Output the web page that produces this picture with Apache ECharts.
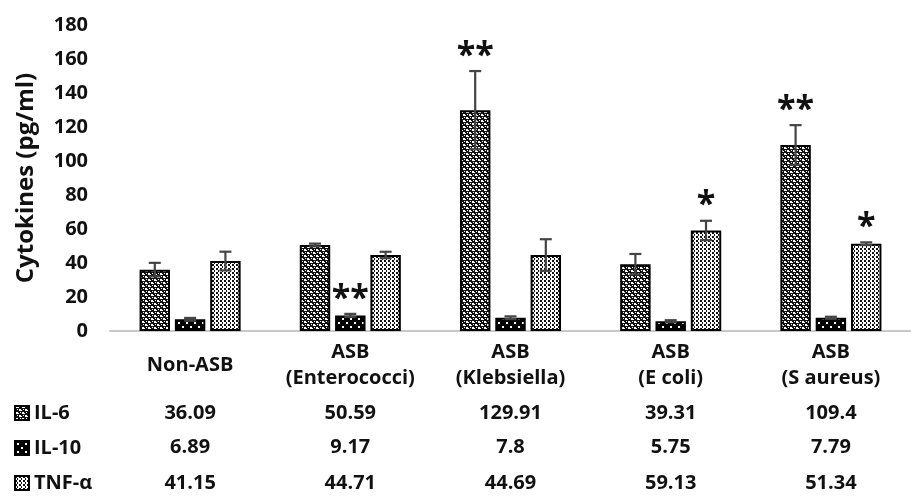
<!DOCTYPE html>
<html>
<head>
<meta charset="utf-8">
<script src="https://cdn.jsdelivr.net/npm/echarts@6/dist/echarts.min.js"></script>
<style>
  html, body { margin: 0; padding: 0; background: #fff; }
  #chart { width: 911px; height: 501px; }
</style>
</head>
<body>
<div id="chart"></div>
<script>
var categories = ["Non-ASB", "ASB\n(Enterococci)", "ASB\n(Klebsiella)", "ASB\n(E coli)", "ASB\n(S aureus)"];
var seriesNames = ["IL-6", "IL-10", "TNF-α"];

var il6 = [36.09, 50.59, 129.91, 39.31, 109.4];
var il10 = [6.89, 9.17, 7.8, 5.75, 7.79];
var tnf = [41.15, 44.71, 44.69, 59.13, 51.34];

// error bar half-lengths
var il6Err = [4, 0.8, 23, 6, 11.7];
var il10Err = [0.8, 0.9, 0.8, 0.6, 0.6];
var tnfErr = [5.5, 1.9, 9.3, 5.7, 0.8];

// significance marks
var il6Stars = ["", "", "**", "", "**"];
var il10Stars = ["", "**", "", "", ""];
var tnfStars = ["", "", "", "*", "*"];

var yTicks = [0, 20, 40, 60, 80, 100, 120, 140, 160, 180];

var FONT = "Open Sans";
var BAR_W = 0.19;   // share of category width
var BAR_GAP = 0.16; // share of bar width

function makeTile(w, h, bg, fg, dots) {
  var c = document.createElement("canvas");
  c.width = w; c.height = h;
  var ctx = c.getContext("2d");
  ctx.fillStyle = bg;
  ctx.fillRect(0, 0, w, h);
  ctx.fillStyle = fg;
  dots.forEach(function (d) { ctx.fillRect(d[0], d[1], d[2], d[3]); });
  return c;
}

var pat6 = makeTile(6, 6, "#111", "#fff", [[1, 0, 2, 2], [4, 3, 2, 2], [0, 4, 1, 1], [3, 1, 1, 1], [2, 3, 1, 1], [5, 0, 1, 1]]);
var pat10 = makeTile(8, 8, "#000", "#fff", [[2, 2, 2, 2], [6, 6, 2, 2]]);
var patTnf = makeTile(4, 4, "#fff", "#111", [[0, 0, 2, 2], [2, 2, 1, 2]]);
var patterns = [pat6, pat10, patTnf];

function barSeries(i, values) {
  return {
    name: seriesNames[i],
    type: "bar",
    data: values,
    barWidth: (BAR_W * 100) + "%",
    barGap: (BAR_GAP * 100) + "%",
    itemStyle: {
      color: { image: patterns[i], repeat: "repeat" },
      borderColor: "#000",
      borderWidth: 2
    }
  };
}

function offsetFor(i, cw) {
  return (i - 1) * cw * BAR_W * (1 + BAR_GAP);
}

function errorSeries(i, values, errs) {
  return {
    type: "custom",
    z: 10,
    data: values.map(function (v, k) { return [k, v, errs[k]]; }),
    renderItem: function (params, api) {
      var x = api.value(0), v = api.value(1), e = api.value(2);
      var lo = api.coord([x, v - e]);
      var hi = api.coord([x, v + e]);
      var cx = hi[0] + offsetFor(i, api.size([1, 0])[0]);
      var cap = 6;
      var st = { stroke: "#444", lineWidth: 2.2 };
      return {
        type: "group",
        children: [
          { type: "line", shape: { x1: cx, y1: lo[1], x2: cx, y2: hi[1] }, style: st },
          { type: "line", shape: { x1: cx - cap, y1: hi[1], x2: cx + cap, y2: hi[1] }, style: st },
          { type: "line", shape: { x1: cx - cap, y1: lo[1], x2: cx + cap, y2: lo[1] }, style: st }
        ]
      };
    }
  };
}

function starSeries(i, values, errs, stars) {
  return {
    type: "custom",
    z: 11,
    data: values.map(function (v, k) { return [k, v + errs[k], stars[k]]; }),
    renderItem: function (params, api) {
      var s = stars[params.dataIndex];
      if (!s) return null;
      var p = api.coord([api.value(0), api.value(1)]);
      var cx = p[0] + offsetFor(i, api.size([1, 0])[0]);
      return {
        type: "text",
        x: cx,
        y: p[1] + 2,
        style: {
          text: s,
          fontFamily: FONT,
          fontWeight: "bold",
          fontSize: 34,
          fill: "#111",
          align: "center",
          verticalAlign: "bottom"
        }
      };
    }
  };
}

function tableAxis(values, margin) {
  return {
    type: "category",
    gridIndex: 0,
    position: "bottom",
    offset: 0,
    data: categories,
    axisLine: { show: false },
    axisTick: { show: false },
    axisLabel: {
      interval: 0,
      margin: margin,
      verticalAlign: "middle",
      fontFamily: FONT,
      fontWeight: "bold",
      fontSize: 20,
      color: "#111",
      formatter: function (val, idx) { return String(values[idx]); }
    }
  };
}

var chart = echarts.init(document.getElementById("chart"), null, { renderer: "canvas" });

chart.setOption({
  backgroundColor: "#fff",
  animation: false,
  textStyle: { fontFamily: FONT },
  grid: { left: 110, top: 25, width: 810, height: 306 },
  legend: {
    data: seriesNames,
    orient: "vertical",
    left: 14,
    top: 403,
    padding: 0,
    itemWidth: 14,
    itemHeight: 14,
    itemGap: 15,
    icon: "rect",
    selectedMode: false,
    textStyle: { fontFamily: FONT, fontWeight: "bold", fontSize: 20, color: "#111", lineHeight: 20 }
  },
  xAxis: [
    {
      type: "category",
      data: categories,
      position: "bottom",
      axisLine: { lineStyle: { color: "#c8c8c8", width: 2 } },
      axisTick: { show: false },
      axisLabel: {
        interval: 0,
        margin: 34,
        verticalAlign: "middle",
        lineHeight: 26,
        fontFamily: FONT,
        fontWeight: "bold",
        fontSize: 20,
        color: "#111"
      }
    },
    tableAxis(il6, 82),
    tableAxis(il10, 116),
    tableAxis(tnf, 152)
  ],
  yAxis: {
    type: "value",
    min: yTicks[0],
    max: yTicks[yTicks.length - 1],
    interval: yTicks[1] - yTicks[0],
    name: "Cytokines (pg/ml)",
    nameLocation: "middle",
    nameGap: 72,
    nameRotate: 90,
    nameTextStyle: { fontFamily: FONT, fontWeight: "bold", fontSize: 24, color: "#111" },
    axisLine: { show: false },
    axisTick: { show: false },
    splitLine: { show: false },
    axisLabel: { margin: 22, fontFamily: FONT, fontWeight: "bold", fontSize: 20, color: "#111" }
  },
  series: [
    barSeries(0, il6),
    barSeries(1, il10),
    barSeries(2, tnf),
    errorSeries(0, il6, il6Err),
    errorSeries(1, il10, il10Err),
    errorSeries(2, tnf, tnfErr),
    starSeries(0, il6, il6Err, il6Stars),
    starSeries(1, il10, il10Err, il10Stars),
    starSeries(2, tnf, tnfErr, tnfStars)
  ]
});
</script>
</body>
</html>
